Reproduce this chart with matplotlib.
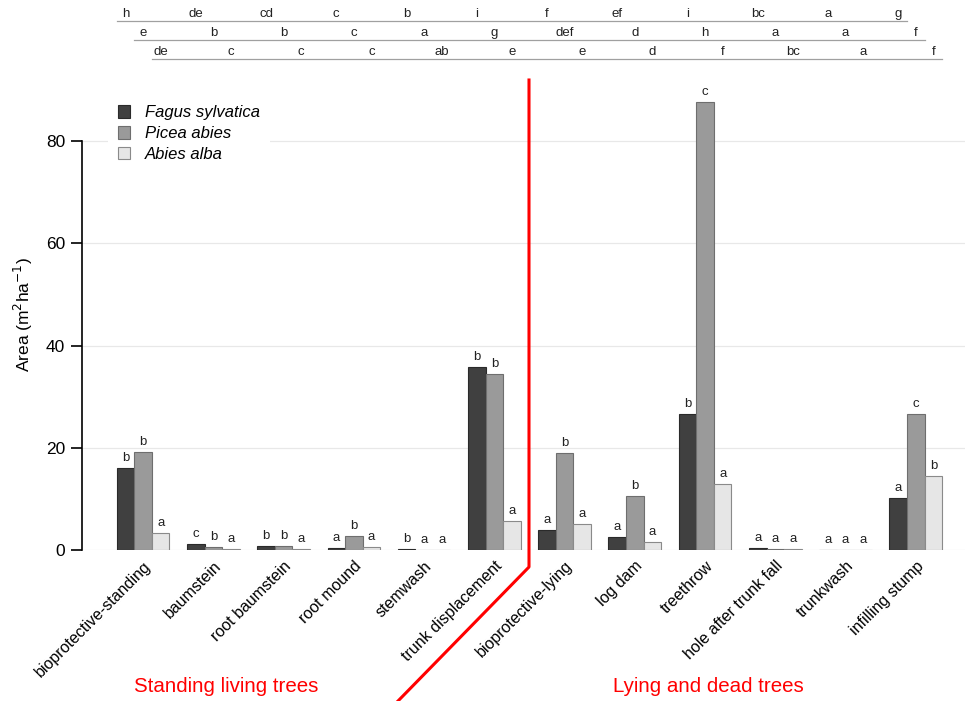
import matplotlib
matplotlib.use("Agg")
import matplotlib.pyplot as plt
import numpy as np
from matplotlib.lines import Line2D
from matplotlib.transforms import blended_transform_factory

plt.rcParams['font.family'] = ['Liberation Sans', 'DejaVu Sans']

categories = ["bioprotective-standing", "baumstein", "root baumstein", "root mound",
              "stemwash", "trunk displacement", "bioprotective-lying", "log dam",
              "treethrow", "hole after trunk fall", "trunkwash", "infilling stump"]
species = ["Fagus sylvatica", "Picea abies", "Abies alba"]

fagus = [16.0, 1.2, 0.8, 0.4, 0.1, 35.8, 3.9, 2.6, 26.6, 0.3, 0.05, 10.2]
picea = [19.1, 0.5, 0.7, 2.7, 0.05, 34.4, 19.0, 10.5, 87.6, 0.1, 0.05, 26.6]
abies = [3.3, 0.2, 0.2, 0.5, 0.05, 5.7, 5.1, 1.5, 12.9, 0.2, 0.05, 14.5]

# letters above bars (within-category comparison)
fagus_letters = ["b", "c", "b", "a", "b", "b", "a", "a", "b", "a", "a", "a"]
picea_letters = ["b", "b", "b", "b", "a", "b", "b", "b", "c", "a", "a", "c"]
abies_letters = ["a", "a", "a", "a", "a", "a", "a", "a", "a", "a", "a", "b"]

# letters in the header rows (across-category comparison per species)
fagus_row = ["h", "de", "cd", "c", "b", "i", "f", "ef", "i", "bc", "a", "g"]
picea_row = ["e", "b", "b", "c", "a", "g", "def", "d", "h", "a", "a", "f"]
abies_row = ["de", "c", "c", "c", "ab", "e", "e", "d", "f", "bc", "a", "f"]

group_labels = ["Standing living trees", "Lying and dead trees"]

values = [fagus, picea, abies]
bar_letters = [fagus_letters, picea_letters, abies_letters]
row_letters = [fagus_row, picea_row, abies_row]
face_colors = ["#404040", "#9a9a9a", "#e6e6e6"]
edge_colors = ["#2a2a2a", "#6e6e6e", "#8a8a8a"]

fig = plt.figure(figsize=(9.67, 7.01), dpi=100)
ax = fig.add_axes([82 / 967, 151 / 701, 883 / 967, 470 / 701])

x = np.arange(len(categories))
width = 0.25
offsets = [-width, 0.0, width]

for vals, lets, off, fc, ec, name in zip(values, bar_letters, offsets,
                                         face_colors, edge_colors, species):
    ax.bar(x + off, vals, width, color=fc, edgecolor=ec, linewidth=0.8,
           label=name, zorder=3)
    for xi, v, t in zip(x, vals, lets):
        ax.annotate(t, (xi + off, v), xytext=(0, 3), textcoords="offset points",
                    ha="center", va="bottom", fontsize=9.5, color="#222222")

ax.set_xlim(-0.87, 11.70)
ax.set_ylim(0, 92)
ax.set_yticks([0, 20, 40, 60, 80])
ax.yaxis.grid(True, color="#e8e8e8", linewidth=0.9, zorder=0)
ax.set_axisbelow(True)
for s in ["top", "right", "bottom"]:
    ax.spines[s].set_visible(False)
ax.spines["left"].set_bounds(0, 80)
ax.spines["left"].set_linewidth(1.2)
ax.tick_params(axis="y", direction="out", length=8, width=1.2, labelsize=12.5, pad=4)
ax.tick_params(axis="x", length=0, labelsize=11.5, pad=6)
ax.set_xticks(x)
ax.set_xticklabels(categories, rotation=45, ha="right", rotation_mode="anchor")
ax.set_ylabel("Area (m$^{2}$ha$^{-1}$)", fontsize=12.5, labelpad=8)

leg = ax.legend(loc="upper left", bbox_to_anchor=(0.02, 0.985), frameon=True,
                facecolor="white", edgecolor="none", framealpha=1.0,
                fontsize=12, handlelength=0.75, handleheight=0.75,
                handletextpad=0.85, labelspacing=0.35, borderpad=0.6)
for t in leg.get_texts():
    t.set_fontstyle("italic")

# header rows of letters with underlines
trans = blended_transform_factory(ax.transData, fig.transFigure)
row_text_y = [1 - 14 / 701, 1 - 33 / 701, 1 - 52 / 701]
row_line_y = [1 - 21 / 701, 1 - 40 / 701, 1 - 59 / 701]
for lets, off, ty, ly in zip(row_letters, offsets, row_text_y, row_line_y):
    for xi, t in zip(x, lets):
        fig.text(xi + off, ty, t, transform=trans, ha="center", va="center",
                 fontsize=9.5, color="#222222")
    fig.add_artist(Line2D([x[0] + off - width / 2, x[-1] + off + width / 2], [ly, ly],
                          transform=trans, color="#a0a0a0", linewidth=0.9))

# red divider between the two groups
fig.add_artist(Line2D([529 / 967, 529 / 967, 398 / 967],
                      [1 - 80 / 701, 1 - 567 / 701, 0.0],
                      transform=fig.transFigure, color="#ff0000", linewidth=2.2))
fig.text(226 / 967, 1 - 686 / 701, group_labels[0], color="#ff0000",
         fontsize=14.8, ha="center", va="center")
fig.text(708 / 967, 1 - 686 / 701, group_labels[1], color="#ff0000",
         fontsize=14.8, ha="center", va="center")

fig.savefig("out.png", dpi=100)
